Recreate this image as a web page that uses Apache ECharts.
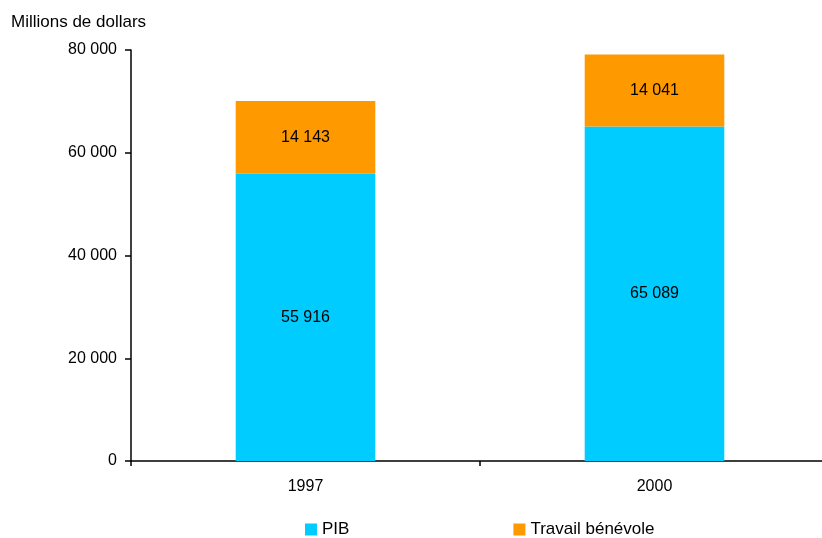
<!DOCTYPE html>
<html>
<head>
<meta charset="utf-8">
<script src="https://cdn.jsdelivr.net/npm/echarts@6/dist/echarts.min.js"></script>
<style>
  html, body { margin: 0; padding: 0; background: #fff; overflow: hidden; }
  /* the plot runs a few pixels past the right edge of the window */
  #chart { width: 829px; height: 538px; }
</style>
</head>
<body>
<div id="chart"></div>
<script>
// Years on the category axis
const years = ['1997', '2000'];
// Values in millions of dollars
const pib = [55916, 65089];
const travailBenevole = [14143, 14041];
// Value axis ticks
const yMin = 0;
const yMax = 80000;
const yStep = 20000;

const fmt = v => String(Math.round(v)).replace(/\B(?=(\d{3})+(?!\d))/g, ' ');
const font = 'Liberation Sans, Arial, sans-serif';

const chart = echarts.init(document.getElementById('chart'), null, { renderer: 'canvas' });

chart.setOption({
  animation: false,
  backgroundColor: '#ffffff',
  textStyle: { fontFamily: font },
  title: {
    text: 'Millions de dollars',
    left: 11,
    top: 14,
    padding: 0,
    textStyle: { fontSize: 17, fontWeight: 'normal', color: '#000', fontFamily: font }
  },
  legend: {
    left: 305,
    top: 521,
    padding: 0,
    itemWidth: 12,
    itemHeight: 12,
    itemGap: 164,
    icon: 'rect',
    textStyle: { fontSize: 17, color: '#000', fontFamily: font },
    data: ['PIB', 'Travail bénévole']
  },
  grid: {
    left: 131,
    right: 0,
    top: 50,
    bottom: 77,
    containLabel: false
  },
  xAxis: {
    type: 'category',
    data: years,
    boundaryGap: true,
    axisLine: { lineStyle: { color: '#000', width: 1.5 } },
    axisTick: { show: true, alignWithLabel: false, length: 5, inside: false, lineStyle: { color: '#000', width: 1.5 } },
    axisLabel: { color: '#000', fontSize: 16, margin: 18, fontFamily: font },
    splitLine: { show: false }
  },
  yAxis: {
    type: 'value',
    min: yMin,
    max: yMax,
    interval: yStep,
    axisLine: { show: true, lineStyle: { color: '#000', width: 1.5 } },
    axisTick: { show: true, length: 6, lineStyle: { color: '#000', width: 1.5 } },
    axisLabel: { color: '#000', fontSize: 16, margin: 14, fontFamily: font, formatter: fmt },
    splitLine: { show: false }
  },
  series: [
    {
      name: 'PIB',
      type: 'bar',
      stack: 'total',
      barWidth: '40%',
      data: pib,
      itemStyle: { color: '#00CCFF' },
      label: {
        show: true,
        position: 'inside',
        color: '#000',
        fontSize: 16,
        fontFamily: font,
        formatter: p => fmt(p.value)
      }
    },
    {
      name: 'Travail bénévole',
      type: 'bar',
      stack: 'total',
      barWidth: '40%',
      data: travailBenevole,
      itemStyle: { color: '#FF9900' },
      label: {
        show: true,
        position: 'inside',
        color: '#000',
        fontSize: 16,
        fontFamily: font,
        formatter: p => fmt(p.value)
      }
    }
  ]
});
</script>
</body>
</html>
